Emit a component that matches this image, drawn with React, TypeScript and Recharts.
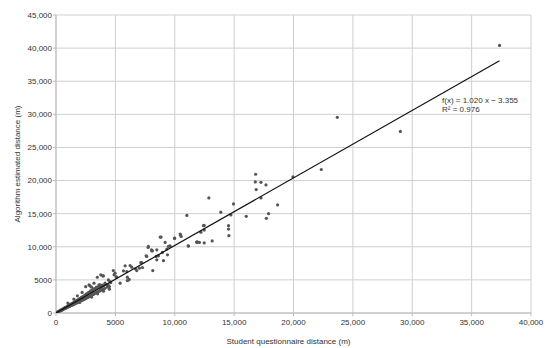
import { CartesianGrid, Scatter, ScatterChart, XAxis, YAxis } from "recharts";

/* ===== Data (metres) ===== */
// dense group near the origin: [student, algorithm]
const nearPoints: [number, number][] = [
  [120, 150], [180, 160], [220, 260], [260, 230], [300, 340], [340, 300],
  [380, 420], [420, 380], [460, 470], [500, 430], [540, 600], [580, 520],
  [620, 640], [660, 590], [700, 760], [740, 650], [780, 820], [820, 720],
  [860, 900], [900, 800], [940, 1020], [980, 870], [1000, 1500], [1020, 1100],
  [1060, 950], [1100, 1180], [1140, 1000], [1180, 1250], [1220, 1080],
  [1260, 1350], [1300, 1150], [1340, 1420], [1380, 1200], [1420, 1500],
  [1460, 1300], [1500, 1600], [1500, 2100], [1540, 1350], [1580, 1700],
  [1620, 1420], [1660, 1780], [1700, 1480], [1740, 1900], [1780, 1560],
  [1800, 2600], [1820, 1950], [1860, 1620], [1900, 2050], [1940, 1700],
  [1980, 2150], [2000, 1600], [2020, 1760], [2060, 2200], [2100, 1850],
  [2140, 2350], [2180, 1900], [2200, 3100], [2220, 2400], [2260, 1980],
  [2300, 2500], [2340, 2050], [2380, 2600], [2420, 2100], [2460, 2700],
  [2500, 2180], [2500, 3980], [2540, 2850], [2580, 2250], [2620, 2900],
  [2660, 2350], [2700, 3050], [2740, 2400], [2780, 3100], [2780, 4240],
  [2820, 2500], [2860, 3250], [2870, 4090], [2900, 2550], [2940, 3400],
  [2980, 2650], [3000, 2400], [3000, 3900], [3020, 3300], [3060, 2750],
  [3100, 3500], [3150, 2800], [3200, 3650], [3200, 4500], [3250, 2950],
  [3300, 3700], [3350, 3050], [3400, 3900], [3450, 3100], [3480, 5400],
  [3500, 3800], [3500, 2900], [3550, 3250], [3600, 4000], [3620, 4240],
  [3650, 3300], [3700, 4100], [3710, 4240], [3750, 3450], [3770, 5760],
  [3800, 3900], [3850, 3500], [3900, 4200], [3940, 5600], [3950, 3600],
  [3990, 5600], [4000, 4100], [4000, 3300], [4100, 3700], [4130, 4500],
  [4200, 4300], [4300, 3900], [4330, 4090], [4400, 4200], [4410, 5000],
  [4500, 4000], [4500, 3600], [4550, 4750], [4610, 4590],
];

const midPoints: [number, number][] = [
  [4830, 6410], [4890, 5760], [4975, 6020], [5060, 5450], [5120, 5410],
  [5400, 4500], [5680, 6360], [5820, 7120], [5960, 6260], [6010, 5410],
  [6010, 4890], [6130, 5000], [6150, 5100], [6240, 7170], [6380, 6920],
  [6690, 6670], [6800, 6410], [7020, 6770], [7140, 7620], [7220, 7620],
  [7280, 6870], [7590, 8640], [7640, 8540], [7760, 9890], [7780, 10050],
  [8040, 9550], [8060, 9390], [8120, 9390], [8150, 6410], [8430, 8540],
  [8490, 8030], [8490, 9540], [8630, 8640], [8770, 11460], [8850, 11460],
  [8960, 9140], [9050, 7900], [9190, 10650], [9330, 9650], [9390, 8790],
  [9470, 10050], [9610, 10150], [9975, 11260], [10000, 11310],
  [10460, 11920], [10480, 11770], [10540, 11560], [11020, 14740],
  [11130, 10150], [11160, 10100], [11860, 10650], [11860, 10760],
  [11920, 10710], [12080, 10650], [12200, 12200], [12420, 13180],
  [12480, 12520], [12480, 10580], [12480, 13230], [12870, 17380],
  [13150, 10880], [13880, 15230],
];

const farPoints: [number, number][] = [
  [14530, 13180], [14530, 12680], [14560, 11670], [14730, 14800],
  [14950, 16470], [16020, 14600], [16780, 19800], [16810, 20950],
  [16860, 18640], [17260, 19740], [17260, 17380], [17680, 19340],
  [17710, 14290], [17900, 15000], [18660, 16320], [19950, 20560],
  [22340, 21670], [23690, 29550], [29000, 27420], [37350, 40400],
];

// linear fit f(x) = 1.020 x − 3.355, drawn over the data range
const trendX = [0, 37350];
const trendY = [-3, 38094];

const xTicks = [0, 5000, 10000, 15000, 20000, 25000, 30000, 35000, 40000];
const yTicks = [0, 5000, 10000, 15000, 20000, 25000, 30000, 35000, 40000, 45000];

const FONT = "'Liberation Sans', Arial, sans-serif";

const scatterData = [...nearPoints, ...midPoints, ...farPoints].map(([x, y]) => ({ x, y }));
const trendData = trendX.map((x, i) => ({ x, y: trendY[i] }));

const fmt = (v: number) => (v < 10000 ? String(v) : v.toLocaleString("en-US"));

const Dot = (props: any) => <circle cx={props.cx} cy={props.cy} r={1.6} fill="#555" />;

export default function App() {
  return (
    <div style={{ position: "relative", width: 550, height: 348, fontFamily: FONT }}>
      <style>{"body{margin:0}"}</style>
      <ScatterChart width={550} height={348} margin={{ top: 15, right: 19, bottom: 0, left: 0 }}>
        <CartesianGrid stroke="#cfcfcf" strokeWidth={1} />
        <XAxis
          type="number"
          dataKey="x"
          domain={[0, 40000]}
          ticks={xTicks}
          allowDataOverflow
          tickFormatter={fmt}
          height={35}
          stroke="#bbb"
          tickSize={3}
          tickMargin={3}
          tick={{ fill: "#333", fontSize: 8, fontFamily: FONT }}
          label={{
            value: "Student questionnaire distance (m)",
            position: "insideBottom",
            offset: 4,
            dx: -5,
            style: { fill: "#333", fontSize: 8, fontFamily: FONT },
          }}
        />
        <YAxis
          type="number"
          dataKey="y"
          domain={[0, 45000]}
          ticks={yTicks}
          allowDataOverflow
          tickFormatter={fmt}
          width={56}
          stroke="#bbb"
          tickSize={3}
          tickMargin={1}
          tick={{ fill: "#333", fontSize: 8, fontFamily: FONT }}
          label={{
            value: "Algorithm estimated distance (m)",
            angle: -90,
            position: "insideLeft",
            offset: 17,
            style: { fill: "#333", fontSize: 8, fontFamily: FONT, textAnchor: "middle" },
          }}
        />
        <Scatter data={scatterData} shape={<Dot />} isAnimationActive={false} />
        <Scatter
          data={trendData}
          line={{ stroke: "#111", strokeWidth: 1.2 }}
          shape={() => <g />}
          isAnimationActive={false}
        />
      </ScatterChart>
      <div
        style={{
          position: "absolute",
          left: 442,
          top: 97,
          fontSize: 8,
          lineHeight: "8.5px",
          color: "#333",
        }}
      >
        <div>f(x) = 1.020 x − 3.355</div>
        <div>R² = 0.976</div>
      </div>
    </div>
  );
}
